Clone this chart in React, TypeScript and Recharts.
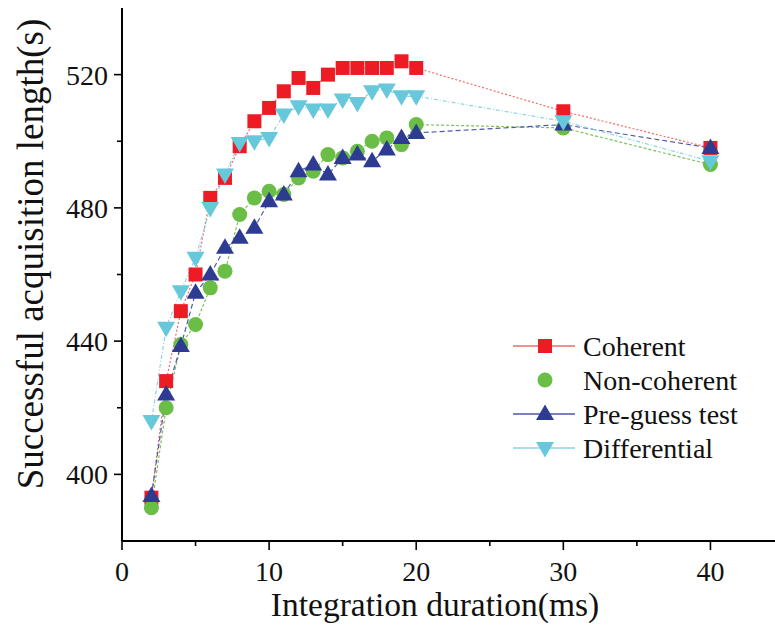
import React from 'react';
import { LineChart, Line, XAxis, YAxis, Legend } from 'recharts';

const durations = [2, 3, 4, 5, 6, 7, 8, 9, 10, 11, 12, 13, 14, 15, 16, 17, 18, 19, 20, 30, 40];
const coherent = [393, 428, 449, 460, 483, 489, 498.5, 506, 510, 515, 519, 516, 520, 522, 522, 522, 522, 524, 522, 509, 498];
const nonCoherent = [390, 420, 439, 445, 456, 461, 478, 483, 485, 484, 489, 491, 496, 495, 497, 500, 501, 499, 505, 504, 493];
const preGuess = [393.5, 424, 438.5, 454.5, 460, 468, 471, 474, 482, 484, 491, 493, 490, 495, 496, 494, 497.5, 501, 502.5, 505, 498];
const differential = [416, 444, 455, 465, 480, 490, 499.5, 500, 501, 508, 510.5, 509.5, 509.5, 512.5, 511.5, 515, 515.5, 513.5, 513.5, 506, 494];

const xTicks = [0, 5, 10, 15, 20, 25, 30, 35, 40, 45];
const xLabelled = [0, 10, 20, 30, 40];
const yTicks = [400, 420, 440, 460, 480, 500, 520];
const yLabelled = [400, 440, 480, 520];
const xDomain = [0, 45];
const yDomain = [380, 540];

const seriesNames = ['Coherent', 'Non-coherent', 'Pre-guess test', 'Differential'];

const data = durations.map((d, i) => ({
  x: d,
  coherent: coherent[i],
  nonCoherent: nonCoherent[i],
  preGuess: preGuess[i],
  differential: differential[i],
}));

const FONT = '"Liberation Serif", "Times New Roman", serif';
const RED = '#ED1C24';
const GREEN = '#6ABD45';
const BLUE = '#2E3B93';
const CYAN = '#67C8DB';

const Marker = ({ shape, cx, cy }: any) => {
  if (cx == null || cy == null) return null;
  if (shape === 'square') return <rect x={cx - 7} y={cy - 7} width={14} height={14} fill={RED} />;
  if (shape === 'circle') return <circle cx={cx} cy={cy} r={7.5} fill={GREEN} />;
  if (shape === 'up')
    return <polygon points={`${cx},${cy - 9.5} ${cx - 9},${cy + 6} ${cx + 9},${cy + 6}`} fill={BLUE} />;
  return <polygon points={`${cx - 9},${cy - 6} ${cx + 9},${cy - 6} ${cx},${cy + 9.5}`} fill={CYAN} />;
};

const makeDot = (shape: string) => (p: any) => (
  <Marker key={`${shape}-${p.index}`} shape={shape} cx={p.cx} cy={p.cy} />
);

const BottomTick = (props: any) => {
  const { x, y, payload } = props;
  const v = payload.value;
  const major = xLabelled.includes(v);
  return (
    <g>
      <line x1={x} y1={y} x2={x} y2={y + (major ? 9 : 5)} stroke="#000" strokeWidth={1.6} />
      {major && (
        <text x={x} y={y + 40} textAnchor="middle" fontSize={28} fontFamily={FONT} fill="#111">
          {v}
        </text>
      )}
    </g>
  );
};

const TopTick = (props: any) => {
  const { x, y, payload } = props;
  const major = xLabelled.includes(payload.value);
  return <line x1={x} y1={y} x2={x} y2={y + (major ? 9 : 5)} stroke="#000" strokeWidth={1.6} />;
};

const LeftTick = (props: any) => {
  const { x, y, payload } = props;
  const v = payload.value;
  const major = yLabelled.includes(v);
  return (
    <g>
      <line x1={x} y1={y} x2={x - (major ? 8 : 5)} y2={y} stroke="#000" strokeWidth={1.6} />
      {major && (
        <text x={x - 14} y={y + 10} textAnchor="end" fontSize={28} fontFamily={FONT} fill="#111">
          {v}
        </text>
      )}
    </g>
  );
};

const RightTick = (props: any) => {
  const { x, y, payload } = props;
  const major = yLabelled.includes(payload.value);
  return <line x1={x} y1={y} x2={x - (major ? 9 : 5)} y2={y} stroke="#000" strokeWidth={1.6} />;
};

const XTitle = (props: any) => {
  const vb = props.viewBox || { x: 122, y: 541, width: 662 };
  return (
    <text x={vb.x + 313} y={vb.y + 75} textAnchor="middle" fontSize={33.5} fontFamily={FONT} fill="#111">
      Integration duration(ms)
    </text>
  );
};

const YTitle = (props: any) => {
  const vb = props.viewBox || { x: 0, y: 8 };
  const cx = vb.x + 43;
  const cy = vb.y + 246;
  return (
    <text
      x={cx}
      y={cy}
      transform={`rotate(-90 ${cx} ${cy})`}
      textAnchor="middle"
      fontSize={37}
      fontFamily={FONT}
      fill="#111"
    >
      Successful acquisition length(s)
    </text>
  );
};

const legendItems = [
  { name: seriesNames[0], shape: 'square', line: '#F26B6B' },
  { name: seriesNames[1], shape: 'circle', line: null },
  { name: seriesNames[2], shape: 'up', line: '#4D58AA' },
  { name: seriesNames[3], shape: 'down', line: '#8AD4E3' },
];

const LegendContent = () => (
  <svg width={270} height={150}>
    {legendItems.map((it, i) => {
      const cy = 26 + i * 34;
      return (
        <g key={it.name}>
          {it.line && <line x1={13} x2={75} y1={cy} y2={cy} stroke={it.line} strokeWidth={1.5} />}
          <Marker shape={it.shape} cx={45} cy={cy} />
          <text x={83} y={cy + 10} fontSize={28} fontFamily={FONT} fill="#111">
            {it.name}
          </text>
        </g>
      );
    })}
  </svg>
);

export default function App() {
  return (
    <div
      style={{
        position: 'absolute',
        left: 0,
        top: 0,
        width: 775,
        height: 628,
        overflow: 'hidden',
        background: '#fff',
      }}
    >
      <LineChart width={790} height={628} data={data} margin={{ top: 8, right: 6, bottom: 0, left: 0 }}>
        <XAxis
          dataKey="x"
          type="number"
          domain={xDomain}
          ticks={xTicks}
          interval={0}
          tickSize={0}
          tickMargin={0}
          tickLine={false}
          tick={<BottomTick />}
          height={87}
          axisLine={{ stroke: '#000', strokeWidth: 2 }}
          allowDataOverflow
          label={<XTitle />}
        />
        <XAxis
          xAxisId="top"
          orientation="top"
          type="number"
          domain={xDomain}
          ticks={xTicks}
          interval={0}
          tickSize={0}
          tickMargin={0}
          tickLine={false}
          tick={<TopTick />}
          height={0}
          axisLine={{ stroke: '#000', strokeWidth: 2 }}
          allowDataOverflow
        />
        <YAxis
          type="number"
          domain={yDomain}
          ticks={yTicks}
          interval={0}
          tickSize={0}
          tickMargin={0}
          tickLine={false}
          tick={<LeftTick />}
          width={122}
          axisLine={{ stroke: '#000', strokeWidth: 2 }}
          allowDataOverflow
          label={<YTitle />}
        />
        <YAxis
          yAxisId="right"
          orientation="right"
          type="number"
          domain={yDomain}
          ticks={yTicks}
          interval={0}
          tickSize={0}
          tickMargin={0}
          tickLine={false}
          tick={<RightTick />}
          width={0}
          axisLine={{ stroke: '#000', strokeWidth: 2 }}
          allowDataOverflow
        />
        <Legend
          layout="horizontal"
          verticalAlign="middle"
          align="center"
          wrapperStyle={{ position: 'absolute', left: 500, top: 320, right: 'auto', bottom: 'auto', width: 270, height: 150 }}
          content={<LegendContent />}
        />
        <Line
          type="linear"
          dataKey="coherent"
          name={seriesNames[0]}
          stroke="#F26B6B"
          strokeWidth={1.2}
          strokeDasharray="2 2"
          dot={makeDot('square')}
          activeDot={false}
          isAnimationActive={false}
        />
        <Line
          type="linear"
          dataKey="nonCoherent"
          name={seriesNames[1]}
          stroke="#7CC35A"
          strokeWidth={1.2}
          strokeDasharray="3 2"
          dot={makeDot('circle')}
          activeDot={false}
          isAnimationActive={false}
        />
        <Line
          type="linear"
          dataKey="preGuess"
          name={seriesNames[2]}
          stroke="#4D58AA"
          strokeWidth={1.2}
          strokeDasharray="5 3"
          dot={makeDot('up')}
          activeDot={false}
          isAnimationActive={false}
        />
        <Line
          type="linear"
          dataKey="differential"
          name={seriesNames[3]}
          stroke="#8AD4E3"
          strokeWidth={1.2}
          strokeDasharray="4 2 1 2"
          dot={makeDot('down')}
          activeDot={false}
          isAnimationActive={false}
        />
      </LineChart>
    </div>
  );
}
